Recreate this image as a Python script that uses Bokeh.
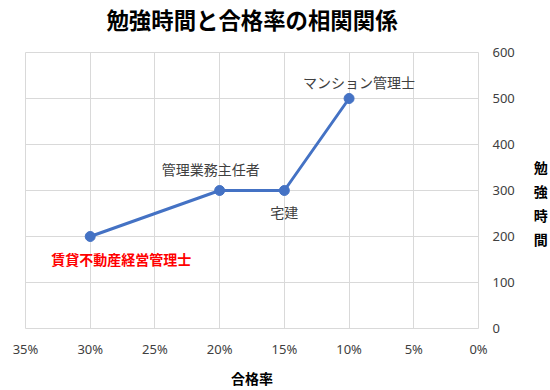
from bokeh.plotting import figure
from bokeh.models import Range1d, FixedTicker, NumeralTickFormatter, Title
from bokeh.core.properties import value
from bokeh.embed import file_html
from bokeh.resources import INLINE

# data
exams = ["賃貸不動産経営管理士", "管理業務主任者", "宅建", "マンション管理士"]
pass_rate = [0.30, 0.20, 0.15, 0.10]
study_hours = [200, 300, 300, 500]
x_ticks = [0.0, 0.05, 0.10, 0.15, 0.20, 0.25, 0.30, 0.35]
y_ticks = [0, 100, 200, 300, 400, 500, 600]
title_text = "勉強時間と合格率の相関関係"
x_title = "合格率"
y_title = "勉強時間"

# label styling (pixel offsets, colour, weight)
label_styles = [
    dict(dx=31, dy=22, color="#FF0000", style="bold"),
    dict(dx=-9, dy=-22, color="#404040", style="normal"),
    dict(dx=0, dy=21, color="#404040", style="normal"),
    dict(dx=10, dy=-17, color="#404040", style="normal"),
]

JP = "Noto Sans CJK JP"
NUM = "Noto Sans"
TXT = "#404040"
GRID = "#d9d9d9"

p = figure(width=550, height=390, output_backend="svg", toolbar_location=None,
           x_range=Range1d(0.35, 0.0), y_range=Range1d(0, 600),
           y_axis_location="right",
           min_border_left=25, min_border_right=72,
           min_border_top=52, min_border_bottom=62)
p.outline_line_color = GRID
p.background_fill_color = "white"
p.border_fill_color = "white"

# spacer between title and frame
p.add_layout(Title(text=" ", text_font_size="1px", standoff=15), "above")

p.title.text = title_text
p.title.align = "center"
p.title.vertical_align = "bottom"
p.title.offset = 18
p.title.text_font = JP
p.title.text_font_size = "22.4px"
p.title.text_font_style = "bold"
p.title.text_color = "#000000"
p.title.standoff = 0

# axes
xa = p.xaxis[0]
xa.ticker = FixedTicker(ticks=x_ticks)
xa.formatter = NumeralTickFormatter(format="0%")
ya = p.yaxis[0]
ya.ticker = FixedTicker(ticks=y_ticks)
for ax in (xa, ya):
    ax.axis_line_color = None
    ax.major_tick_line_color = None
    ax.minor_tick_line_color = None
    ax.major_label_text_font = NUM
    ax.major_label_text_font_size = "13px"
    ax.major_label_text_color = TXT
    ax.axis_label_text_font = JP
    ax.axis_label_text_font_size = "14px"
    ax.axis_label_text_font_style = "bold"
    ax.axis_label_text_color = "#000000"
xa.major_label_standoff = 5
ya.major_label_standoff = 8
xa.axis_label = x_title
xa.axis_label_standoff = 7
ya.axis_label = "\n" + "\n".join(y_title)
ya.axis_label_standoff = 16
try:
    ya.axis_label_orientation = "horizontal"
except Exception:
    pass

p.xgrid.ticker = FixedTicker(ticks=x_ticks)
p.ygrid.ticker = FixedTicker(ticks=y_ticks)
p.xgrid.grid_line_color = GRID
p.ygrid.grid_line_color = GRID

# series
p.line(pass_rate, study_hours, line_color="#4472C4", line_width=3)
p.scatter(pass_rate, study_hours, size=10, fill_color="#4472C4", line_color="#4472C4")

for name, x, y, st in zip(exams, pass_rate, study_hours, label_styles):
    p.text(x=[x], y=[y], text=[name], x_offset=st["dx"], y_offset=st["dy"],
           text_align="center", text_baseline="middle",
           text_font=value(JP), text_font_size="14px",
           text_color=st["color"], text_font_style=st["style"])

open("out.html", "w").write(file_html(p, INLINE))
